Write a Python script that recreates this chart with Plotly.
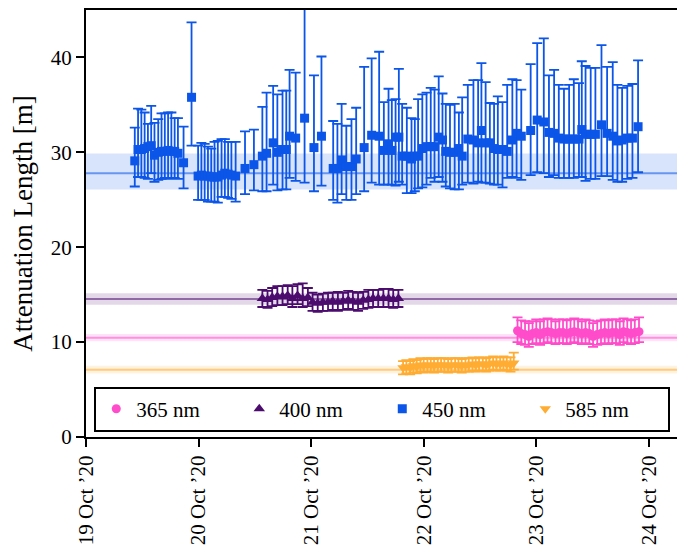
import pandas as pd
import plotly.graph_objects as go

T0 = pd.Timestamp("2020-10-19 00:00")

# ---- 450 nm (hours since 19 Oct 00:00, value, upper bound, lower bound)
h450 = [10.4, 11.1, 11.8, 12.5, 13.2, 13.9, 14.6, 15.4, 16.1, 16.8, 17.5, 18.2, 18.9, 19.6, 20.8,
        22.5, 23.9, 24.6, 25.3, 26.0, 26.7, 27.4, 28.1, 28.9, 29.6, 30.3, 31.0, 31.9, 33.9, 35.8,
        37.6, 38.5, 39.9, 40.8, 41.9, 42.7, 43.4, 44.7, 46.6, 48.6, 50.2, 52.7, 53.6, 54.5, 55.5,
        56.6, 57.6, 59.3, 60.9, 62.5, 63.5, 64.5, 65.2,
        66.0, 66.7, 67.4, 68.4, 69.4, 70.1, 70.8, 71.7, 72.6, 73.5, 74.3, 75.2, 76.0, 76.7, 77.6,
        78.6, 79.5, 80.2, 81.4, 82.6, 83.6, 84.3, 85.2, 86.1, 87.0, 87.8, 88.8, 89.8, 90.9, 91.8, 92.8,
        94.8, 96.2, 97.6, 98.7, 99.8, 100.8, 101.9, 103.0, 104.0, 105.1, 105.7, 106.5, 107.6, 108.6,
        109.9, 111.1, 112.3, 113.3, 114.3, 115.4, 116.5, 117.7]
v450 = [29.1, 30.3, 30.3, 30.4, 30.6, 30.7, 29.7, 30.0, 30.1, 30.1, 30.2, 30.1, 30.1, 29.9, 28.9,
        35.8, 27.5, 27.6, 27.5, 27.5, 27.4, 27.4, 27.4, 27.6, 27.8, 27.7, 27.6, 27.5, 28.3, 28.7,
        29.6, 29.9, 31.0, 30.0, 30.3, 30.3, 31.7, 31.5, 33.6, 30.5, 31.7, 28.3, 28.3, 29.2, 28.5,
        28.5, 29.3, 30.5, 31.8, 31.7, 30.2, 30.9, 30.2,
        31.6, 31.6, 29.6, 29.6, 29.3, 29.6, 29.6, 30.4, 30.6, 30.6, 30.6, 31.6, 31.3, 30.1, 30.0,
        30.0, 30.4, 29.6, 31.4, 31.3, 31.0, 32.3, 31.0, 31.0, 30.4, 30.3, 30.3, 30.1, 31.3, 32.0, 31.7,
        32.3, 33.4, 33.2, 32.1, 32.0, 31.5, 31.4, 31.4, 31.4, 31.4, 32.4, 31.9, 31.9, 31.9,
        32.9, 32.0, 31.7, 31.2, 31.3, 31.5, 31.5, 32.7]
hi450 = [32.6, 34.6, 34.5, 34.2, 33.0, 34.9, 33.1, 33.5, 34.1, 34.1, 34.2, 34.2, 33.6, 33.6, 32.7,
         43.7, 30.7, 31.0, 30.9, 30.6, 30.4, 31.1, 31.2, 31.4, 31.4, 31.1, 31.1, 31.1, 32.2, 32.4,
         34.8, 36.3, 37.0, 36.1, 36.5, 36.5, 38.7, 38.4, 47.0, 38.1, 40.1, 33.3, 33.0, 35.1, 32.8,
         33.5, 34.7, 39.0, 39.9, 40.6, 35.3, 36.7, 35.5,
         35.6, 38.8, 35.1, 34.7, 33.6, 33.5, 35.6, 36.1, 36.3, 36.8, 36.6, 38.0, 36.2, 35.1, 35.0,
         35.1, 34.2, 35.8, 37.1, 37.6, 37.6, 39.4, 37.4, 35.2, 35.1, 35.9, 35.3, 37.1, 37.7, 37.6, 36.6,
         39.3, 41.5, 42.0, 38.1, 38.7, 37.1, 36.7, 37.1, 37.7, 37.3, 39.6, 39.1, 38.9, 38.9,
         41.3, 39.0, 39.5, 37.1, 36.8, 37.0, 37.2, 39.7]
lo450 = [26.4, 27.4, 27.4, 27.3, 27.2, 27.8, 26.9, 27.1, 27.2, 27.3, 27.2, 27.3, 27.3, 27.2, 26.2,
         30.7, 25.0, 25.0, 25.0, 24.8, 24.8, 24.8, 24.7, 25.3, 25.3, 25.2, 25.1, 24.8, 25.6, 26.0,
         25.9, 25.9, 26.6, 26.0, 26.1, 26.1, 27.3, 27.0, 26.8, 25.9, 26.5, 25.0, 24.7, 25.6, 25.0,
         25.0, 25.6, 25.9, 26.8, 26.6, 26.6, 26.6, 26.6,
         26.5, 26.9, 26.6, 25.7, 25.7, 25.9, 26.2, 26.3, 26.6, 27.3, 26.9, 27.4, 26.9, 26.4, 26.2,
         26.1, 26.1, 26.6, 26.8, 26.7, 26.9, 26.8, 26.8, 26.7, 26.6, 26.6, 26.3, 27.3, 27.4, 27.3, 27.1,
         27.6, 27.9, 27.8, 27.4, 27.6, 27.3, 27.3, 27.3, 27.3, 27.4, 27.4, 27.0, 27.2, 27.2,
         27.5, 27.5, 27.1, 26.9, 26.9, 27.2, 27.3, 27.9]

# ---- 400 nm
h400 = [37.6, 38.7, 39.7, 40.8, 41.9, 43.0, 44.0, 45.1, 46.2, 47.3, 48.3, 49.4, 50.5, 51.6,
        52.6, 53.7, 54.8, 55.9, 56.9, 58.0, 59.1, 60.2, 61.2, 62.3, 63.4, 64.5, 65.5, 66.6]
v400 = [14.6, 14.5, 14.7, 14.8, 14.8, 14.9, 14.6, 14.9, 14.6, 14.7, 14.2, 14.1, 14.2, 14.2,
        14.3, 14.2, 14.3, 14.4, 14.3, 14.2, 14.4, 14.5, 14.6, 14.6, 14.6, 14.6, 14.5, 14.6]
hi400 = [15.5, 15.4, 15.7, 15.9, 15.9, 16.0, 15.9, 16.1, 16.2, 15.7, 15.2, 15.0, 15.1, 15.2,
         15.2, 15.3, 15.2, 15.4, 15.3, 15.2, 15.3, 15.5, 15.5, 15.5, 15.6, 15.6, 15.5, 15.5]
lo400 = [13.7, 13.6, 13.8, 13.9, 13.9, 14.0, 13.7, 14.0, 13.7, 13.8, 13.3, 13.2, 13.3, 13.3,
         13.4, 13.3, 13.4, 13.5, 13.4, 13.3, 13.5, 13.6, 13.7, 13.7, 13.7, 13.7, 13.6, 13.7]

# ---- 585 nm
h585 = [67.6, 68.3, 69.1, 69.8, 70.5, 71.3, 72.0, 72.8, 73.5, 74.2, 75.0, 75.7, 76.4, 77.2,
        77.9, 78.7, 79.4, 80.1, 80.9, 81.6, 82.4, 83.1, 83.8, 84.6, 85.3, 86.0, 86.8, 87.5,
        88.3, 89.0, 89.7, 90.5, 91.2]
v585 = [7.3, 7.4, 7.3, 7.5, 7.4, 7.6, 7.5, 7.6, 7.6, 7.5, 7.6, 7.6, 7.6, 7.5, 7.6, 7.6, 7.6,
        7.5, 7.6, 7.6, 7.7, 7.6, 7.7, 7.7, 7.6, 7.7, 7.8, 7.7, 7.7, 7.8, 7.7, 7.6, 7.8]
hi585 = [8.0, 8.1, 8.0, 8.2, 8.1, 8.3, 8.2, 8.3, 8.3, 8.2, 8.3, 8.3, 8.3, 8.2, 8.3, 8.3, 8.3,
         8.2, 8.3, 8.3, 8.4, 8.3, 8.4, 8.4, 8.3, 8.4, 8.5, 8.4, 8.4, 8.5, 8.4, 8.4, 8.9]
lo585 = [6.6, 6.7, 6.6, 6.8, 6.7, 6.9, 6.8, 6.9, 6.9, 6.8, 6.9, 6.9, 6.9, 6.8, 6.9, 6.9, 6.9,
         6.8, 6.9, 6.9, 7.0, 6.9, 7.0, 7.0, 6.9, 7.0, 7.1, 7.0, 7.0, 7.1, 7.0, 6.9, 7.1]

# ---- 365 nm
h365 = [92.0, 92.8, 93.6, 94.4, 95.2, 96.0, 96.8, 97.6, 98.4, 99.2, 100.1, 100.9, 101.7,
        102.5, 103.3, 104.1, 104.9, 105.7, 106.5, 107.3, 108.1, 109.0, 109.8, 110.6, 111.4,
        112.2, 113.0, 113.8, 114.6, 115.4, 116.2, 117.0, 117.9]
v365 = [11.2, 10.9, 10.8, 10.6, 10.9, 11.0, 10.8, 11.0, 11.1, 11.0, 10.9, 11.0, 11.0, 10.9,
        11.0, 11.1, 11.0, 10.9, 11.0, 10.9, 10.6, 10.8, 10.9, 11.0, 10.9, 11.0, 11.0, 10.8,
        11.1, 11.0, 10.9, 11.0, 11.1]
hi365 = [12.6, 12.3, 12.2, 12.0, 12.2, 12.4, 12.2, 12.4, 12.5, 12.4, 12.2, 12.4, 12.4, 12.3,
         12.4, 12.5, 12.4, 12.2, 12.4, 12.3, 12.0, 12.2, 12.3, 12.4, 12.3, 12.4, 12.4, 12.2,
         12.5, 12.4, 12.3, 12.4, 12.6]
lo365 = [10.0, 9.8, 9.7, 9.5, 9.8, 9.9, 9.7, 9.9, 10.0, 9.9, 9.8, 9.9, 9.9, 9.8, 9.9, 10.0,
         9.9, 9.8, 9.9, 9.8, 9.5, 9.7, 9.8, 9.9, 9.8, 9.9, 9.9, 9.7, 10.0, 9.9, 9.8, 9.9, 10.0]

# ---- mean lines and bands (mean, low, high)
labels = ["365 nm", "400 nm", "450 nm", "585 nm"]
means = [10.47, 14.55, 27.8, 7.1]
band_lo = [10.08, 13.95, 26.08, 6.68]
band_hi = [10.86, 15.14, 29.87, 7.52]
colors = ["#ff4ccb", "#4b0c6e", "#0b55e8", "#ffac33"]
rgb = [(255, 76, 203), (75, 12, 110), (11, 85, 232), (255, 172, 51)]
symbols = ["circle", "triangle-up", "square", "triangle-down"]
sizes = [9, 10, 9, 10]

xticks = ["2020-10-19", "2020-10-20", "2020-10-21", "2020-10-22", "2020-10-23", "2020-10-24"]
xticktext = ["19 Oct \u201920", "20 Oct \u201920", "21 Oct \u201920", "22 Oct \u201920",
             "23 Oct \u201920", "24 Oct \u201920"]

series = [(h365, v365, hi365, lo365), (h400, v400, hi400, lo400),
          (h450, v450, hi450, lo450), (h585, v585, hi585, lo585)]

FAM = "Liberation Serif, Times New Roman, Times, serif"

fig = go.Figure()

for i in range(4):
    r, g, b = rgb[i]
    fig.add_hrect(y0=band_lo[i], y1=band_hi[i], fillcolor=f"rgba({r},{g},{b},0.16)",
                  line_width=0, layer="below")
    fig.add_hline(y=means[i], line=dict(color=f"rgba({r},{g},{b},0.55)", width=2), layer="below")

for i, (hh, vv, hi, lo) in enumerate(series):
    x = [T0 + pd.Timedelta(hours=t) for t in hh]
    up = [a - v for a, v in zip(hi, vv)]
    dn = [v - a for a, v in zip(lo, vv)]
    fig.add_trace(go.Scatter(
        x=x, y=vv, mode="markers", name=labels[i],
        marker=dict(symbol=symbols[i], color=colors[i], size=sizes[i]),
        error_y=dict(type="data", symmetric=False, array=up, arrayminus=dn,
                     color=colors[i], thickness=1.8, width=5),
    ))

font = dict(family=FAM, color="black", size=21)
fig.update_layout(
    width=685, height=547,
    margin=dict(l=78, r=16, t=2, b=118),
    paper_bgcolor="white", plot_bgcolor="white",
    font=font,
    showlegend=True,
    legend=dict(orientation="h", x=0.014, y=0.118, xanchor="left", yanchor="top",
                bordercolor="black", borderwidth=2, bgcolor="white",
                font=dict(family=FAM, size=21, color="black"),
                entrywidth=98, traceorder="normal"),
)
fig.update_xaxes(
    type="date", range=["2020-10-19 00:00", "2020-10-24 06:00"],
    tickvals=xticks, ticktext=xticktext, tickangle=-90,
    showline=True, linecolor="black", linewidth=2, mirror="ticks",
    ticks="outside", ticklen=8, tickwidth=2, tickcolor="black",
    showgrid=False, zeroline=False, tickfont=font, automargin=False,
)
fig.update_yaxes(
    range=[0, 45], tickvals=[0, 10, 20, 30, 40],
    showline=True, linecolor="black", linewidth=2, mirror="ticks",
    ticks="outside", ticklen=8, tickwidth=2, tickcolor="black",
    showgrid=False, zeroline=False, tickfont=font, automargin=False,
    title=dict(text="Attenuation Length [m]", font=dict(family=FAM, size=27, color="black")),
)

fig.write_html("out.html")
